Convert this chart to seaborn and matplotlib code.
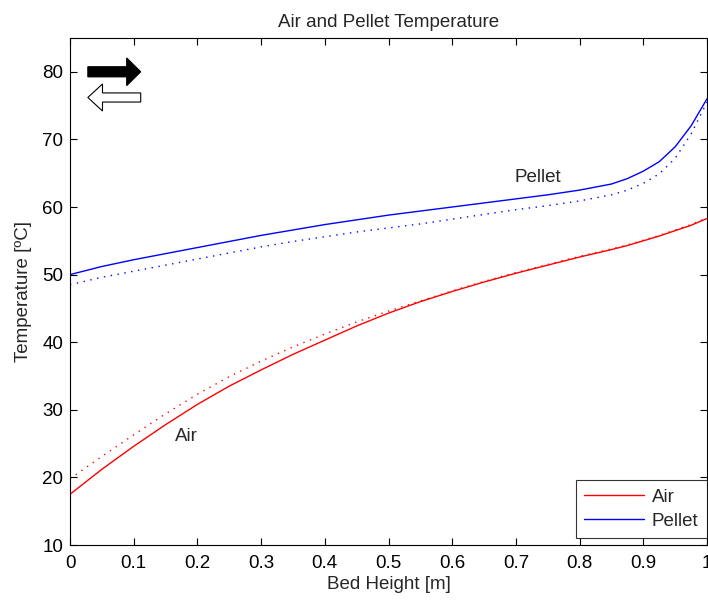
import matplotlib
matplotlib.use("Agg")
import matplotlib.pyplot as plt
import seaborn as sns
import pandas as pd
from matplotlib.patches import FancyArrow

# ---- data ----
bed_height = [0.0, 0.05, 0.1, 0.15, 0.2, 0.25, 0.3, 0.35, 0.4, 0.45, 0.5,
              0.55, 0.6, 0.65, 0.7, 0.75, 0.8, 0.85, 0.875, 0.9, 0.925,
              0.95, 0.975, 1.0]
air_solid = [17.5, 21.2, 24.6, 27.8, 30.8, 33.5, 35.9, 38.2, 40.3, 42.4, 44.3,
             46.0, 47.5, 48.9, 50.2, 51.4, 52.6, 53.7, 54.3, 55.0, 55.7,
             56.5, 57.3, 58.3]
air_dotted = [19.8, 23.1, 26.3, 29.4, 32.3, 34.9, 37.2, 39.3, 41.2, 43.0, 44.6,
              46.1, 47.6, 49.0, 50.3, 51.5, 52.7, 53.8, 54.4, 55.1, 55.8,
              56.6, 57.4, 58.4]
pellet_solid = [50.0, 51.2, 52.2, 53.1, 54.0, 54.9, 55.8, 56.6, 57.4, 58.1, 58.8,
                59.4, 60.0, 60.6, 61.2, 61.8, 62.5, 63.4, 64.2, 65.3, 66.7,
                68.9, 72.0, 76.0]
pellet_dotted = [48.5, 49.6, 50.5, 51.4, 52.3, 53.2, 54.1, 54.9, 55.6, 56.3, 56.9,
                 57.5, 58.2, 58.9, 59.6, 60.2, 60.9, 61.8, 62.5, 63.5, 64.9,
                 67.2, 70.8, 75.5]

x_ticks = [0, 0.1, 0.2, 0.3, 0.4, 0.5, 0.6, 0.7, 0.8, 0.9, 1]
x_tick_labels = ["0", "0.1", "0.2", "0.3", "0.4", "0.5", "0.6", "0.7", "0.8", "0.9", "1"]
y_ticks = [10, 20, 30, 40, 50, 60, 70, 80]

df = pd.DataFrame({"x": bed_height, "air_s": air_solid, "air_d": air_dotted,
                   "pel_s": pellet_solid, "pel_d": pellet_dotted})

sns.set_theme(style="ticks")
plt.rcParams["font.family"] = ["Liberation Sans", "DejaVu Sans"]
plt.rcParams["xtick.direction"] = "in"
plt.rcParams["ytick.direction"] = "in"

FS = 13.5

fig = plt.figure(figsize=(7.08, 6.01), dpi=100)
ax = fig.add_axes([70 / 708, 56 / 601, 637 / 708, 507 / 601])

sns.lineplot(data=df, x="x", y="air_s", color="#ff0000", lw=1.0, label="Air", ax=ax)
sns.lineplot(data=df, x="x", y="pel_s", color="#0000ff", lw=1.0, label="Pellet", ax=ax)
sns.lineplot(data=df, x="x", y="air_d", color="#ff0000", lw=1.0, ax=ax,
             linestyle=(0, (1, 4)), legend=False)
sns.lineplot(data=df, x="x", y="pel_d", color="#0000ff", lw=1.0, ax=ax,
             linestyle=(0, (1, 4)), legend=False)

ax.set_xlim(0, 1)
ax.set_ylim(10, 85)
ax.set_xticks(x_ticks)
ax.set_xticklabels(x_tick_labels)
ax.set_yticks(y_ticks)
ax.tick_params(axis="x", which="both", direction="in", length=5, width=0.8,
               labelsize=FS, top=True, colors="black", pad=7)
ax.tick_params(axis="y", which="both", direction="in", length=5, width=0.8,
               labelsize=FS, right=True, colors="black", pad=5)
for s in ax.spines.values():
    s.set_visible(True)
    s.set_color("black")
    s.set_linewidth(0.8)

ax.set_title("Air and Pellet Temperature", fontsize=FS, pad=8)
ax.set_xlabel("Bed Height [m]", fontsize=FS, labelpad=3)
ax.set_ylabel("Temperature [ºC]", fontsize=FS, labelpad=7)

ax.text(0.734, 64.3, "Pellet", fontsize=FS, ha="center", va="center")
ax.text(0.183, 26.0, "Air", fontsize=FS, ha="center", va="center")

# direction arrows
ax.add_patch(FancyArrow(0.028, 80.0, 0.083, 0, width=1.5, head_width=4.1,
                        head_length=0.022, length_includes_head=True,
                        facecolor="black", edgecolor="black", lw=0.8))
ax.add_patch(FancyArrow(0.111, 76.2, -0.083, 0, width=1.35, head_width=4.0,
                        head_length=0.023, length_includes_head=True,
                        facecolor="white", edgecolor="black", lw=0.8))

leg = ax.legend(loc="lower right", bbox_to_anchor=(1.0, 7 / 507), borderaxespad=0,
                fontsize=FS, frameon=True, fancybox=False, handlelength=3.2,
                handletextpad=0.4, borderpad=0.45, labelspacing=0.35)
leg.get_frame().set_edgecolor("black")
leg.get_frame().set_linewidth(0.8)

fig.savefig("out.png", dpi=100)
